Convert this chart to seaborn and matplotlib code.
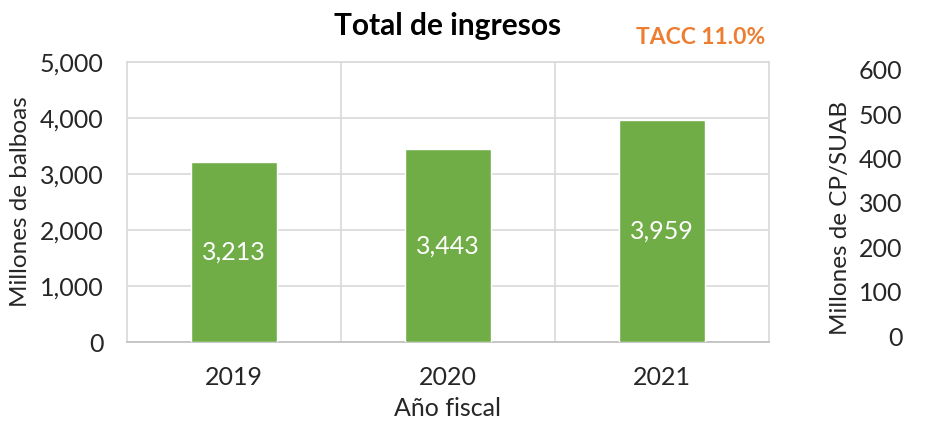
import matplotlib
matplotlib.use("Agg")
import matplotlib.pyplot as plt
import seaborn as sns
import pandas as pd
from matplotlib.ticker import FuncFormatter, FixedLocator

years = ["2019", "2020", "2021"]
ingresos = [3213, 3443, 3959]
left_ticks = [0, 1000, 2000, 3000, 4000, 5000]
right_ticks = [0, 100, 200, 300, 400, 500, 600]

title = "Total de ingresos"
tacc = "TACC 11.0%"

sns.set_theme(style="white")
plt.rcParams['font.family'] = ['Lato', 'DejaVu Sans']

df = pd.DataFrame({"year": years, "val": ingresos})

fig = plt.figure(figsize=(9.27, 4.24), dpi=100)
ax = fig.add_axes([127/927, (424-342)/424, 642/927, 280/424])

sns.barplot(data=df, x="year", y="val", color="#70AD47", width=0.4,
            saturation=1, ax=ax, zorder=3)

ax.set_ylim(0, 5000)
ax.set_xlim(-0.5, 2.5)
ax.set_yticks(left_ticks)
ax.yaxis.set_major_formatter(FuncFormatter(lambda v, p: f"{int(v):,}"))
ax.xaxis.set_minor_locator(FixedLocator([0.5, 1.5]))
ax.grid(axis="y", which="major", color="#D9D9D9", lw=1.2, zorder=0)
ax.grid(axis="x", which="minor", color="#D9D9D9", lw=1.2, zorder=0)
ax.tick_params(axis="x", which="both", length=0, labelsize=18, pad=17)
ax.tick_params(axis="y", length=0, labelsize=18, pad=17)
for s in ["top", "right", "left"]:
    ax.spines[s].set_color("#D9D9D9")
    ax.spines[s].set_linewidth(1.2)
ax.spines["bottom"].set_color("#BFBFBF")
ax.spines["bottom"].set_linewidth(1.2)

ax.set_xlabel("Año fiscal", fontsize=18, labelpad=6)
ax.set_ylabel("Millones de balboas", fontsize=17.5, labelpad=6)

for c in ax.containers:
    ax.bar_label(c, labels=[f"{v:,}" for v in ingresos], label_type="center",
                 color="white", fontsize=18)

ax2 = ax.twinx()
ax2.set_ylim(-13.5, 618)
ax2.set_yticks(right_ticks)
ax2.tick_params(axis="y", length=0, labelsize=18, pad=96)
for lbl in ax2.get_yticklabels():
    lbl.set_horizontalalignment("right")
for s in ax2.spines.values():
    s.set_visible(False)

fig.text(840/927, 1 - 218/424, "Millones de CP/SUAB", rotation=90,
         ha="center", va="center", fontsize=17.5, color="#262626")

fig.text(448/927, 1 - 26/424, title, ha="center", va="center",
         fontsize=21.5, fontweight="bold", color="black")
fig.text(765/927, 1 - 38/424, tacc, ha="right", va="center",
         fontsize=16.5, fontweight="bold", color="#ED7D31")

fig.savefig("out.png", dpi=100)
